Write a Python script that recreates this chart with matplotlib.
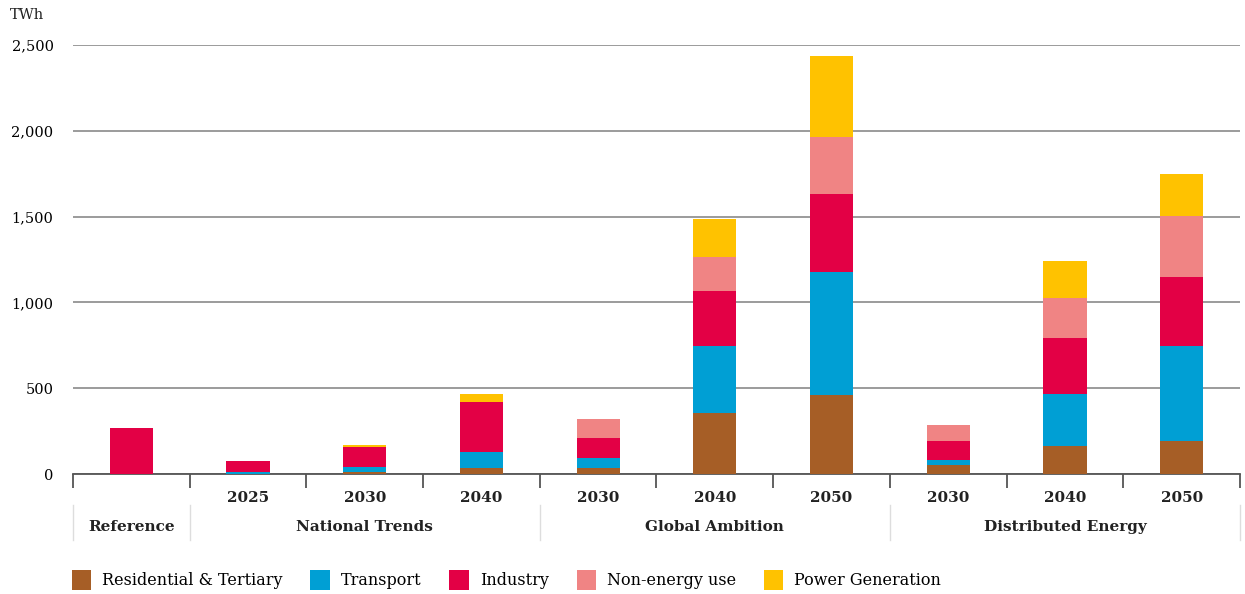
import matplotlib.pyplot as plt
from matplotlib.patches import Patch
from matplotlib.transforms import blended_transform_factory

plt.rcParams['font.family'] = ['DejaVu Serif']

years = ['', '2025', '2030', '2040', '2030', '2040', '2050', '2030', '2040', '2050']
groups = ['Reference', 'National Trends', 'Global Ambition', 'Distributed Energy']
group_centers = [0, 2, 5, 8]
group_edges = [-0.5, 0.5, 3.5, 6.5, 9.5]

residential = [0, 2, 12, 35, 37, 355, 458, 53, 163, 193]
transport = [0, 12, 27, 95, 55, 393, 717, 29, 301, 555]
industry = [268, 62, 117, 290, 116, 320, 457, 111, 330, 402]
non_energy = [0, 0, 0, 0, 113, 197, 330, 93, 234, 353]
power = [0, 0, 13, 48, 0, 221, 476, 0, 215, 244]

series = [
    ('Residential & Tertiary', residential, '#A65E26'),
    ('Transport', transport, '#009FD4'),
    ('Industry', industry, '#E30045'),
    ('Non-energy use', non_energy, '#F08484'),
    ('Power Generation', power, '#FFC200'),
]

fig = plt.figure(figsize=(12.45, 5.94), dpi=100)
ax = fig.add_axes([0.0586, 0.202, 0.9374, 0.722])

x = list(range(len(years)))
bottom = [0] * len(x)
for name, vals, col in series:
    ax.bar(x, vals, width=0.37, bottom=bottom, color=col, zorder=3)
    bottom = [b + v for b, v in zip(bottom, vals)]

ax.set_xlim(-0.5, 9.5)
ax.set_ylim(0, 2500)
ax.set_yticks([0, 500, 1000, 1500, 2000, 2500])
ax.set_yticklabels(['0', '500', '1,000', '1,500', '2,000', '2,500'], fontsize=10.5)
ax.yaxis.grid(True, color='#8a8a8a', linewidth=1.2, zorder=0)
ax.tick_params(axis='y', length=0, pad=14)
for s in ['top', 'right', 'left']:
    ax.spines[s].set_visible(False)
ax.spines['bottom'].set_color('#555555')
ax.spines['bottom'].set_linewidth(1.3)

ax.set_xticks(group_edges[:1] + [i + 0.5 for i in range(10)])
ax.set_xticklabels([])
ax.tick_params(axis='x', length=10, width=1.3, color='#555555', direction='out')

tr = blended_transform_factory(ax.transData, ax.transAxes)
for i, y in enumerate(years):
    ax.text(i, -0.056, y, transform=tr, ha='center', va='center',
            fontsize=11, fontweight='bold', color='#222222')
for c, g in zip(group_centers, groups):
    ax.text(c, -0.124, g, transform=tr, ha='center', va='center',
            fontsize=11, fontweight='bold', color='#222222')
for e in group_edges:
    ax.plot([e, e], [-0.072, -0.154], transform=tr, color='#dddddd',
            linewidth=1, clip_on=False)

fig.text(0.008, 0.975, 'TWh', fontsize=10.5, va='center', ha='left', color='#222222')

handles = [Patch(facecolor=c, label=n) for n, v, c in series]
fig.legend(handles=handles, ncol=5, loc='lower left', bbox_to_anchor=(0.046, -0.017),
           frameon=False, fontsize=11.5, handlelength=1.2, handleheight=1.5,
           columnspacing=1.75, handletextpad=0.7)

fig.savefig('out.png', dpi=100)
